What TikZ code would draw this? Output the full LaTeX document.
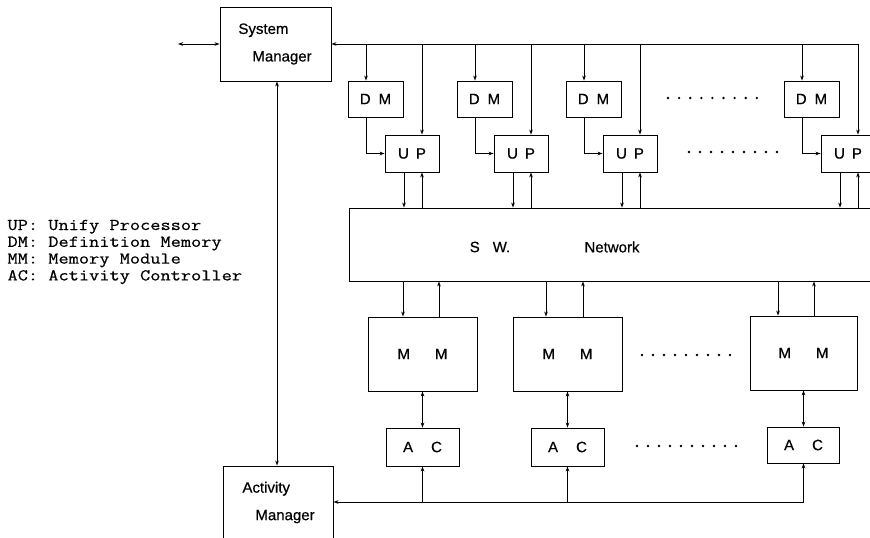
\documentclass[tikz,border=0pt]{standalone}
\usepackage{fontspec}
\newfontfamily\labelfont[FakeBold=0.6]{Liberation Sans}
\newfontfamily\legendfont[FakeBold=0.5]{Latin Modern Mono}
\usetikzlibrary{arrows.meta}
\begin{document}
\begin{tikzpicture}[x=1pt,y=-1pt,
  line width=0.9pt,
  box/.style={draw, inner sep=0pt, font=\labelfont\fontsize{15}{17}\selectfont},
  lbl/.style={inner sep=0pt, font=\labelfont\fontsize{15}{17}\selectfont},
  mgr/.style={inner sep=0pt, align=left, font=\labelfont\fontsize{15}{27.5}\selectfont},
  arr/.style={-{Stealth[length=5pt,width=3.6pt]}},
  darr/.style={{Stealth[length=5pt,width=3.6pt]}-{Stealth[length=5pt,width=3.6pt]}},
  dot/.style={fill=black}]
\useasboundingbox (0,0) rectangle (870,538);
\clip (0,0) rectangle (870,538);

% managers
\node[box, minimum width=111pt, minimum height=74pt] (sm) at (275.5,44) {};
\node[mgr, anchor=west] (smtext) at (238,44) {System\\\hspace{14pt}Manager};
\node[box, minimum width=110pt, minimum height=104pt] (am) at (278,518) {};
\node[mgr, anchor=west] (amtext) at (242,502.5) {Activity\\\hspace{13pt}Manager};

% switching network
\node[box, minimum width=551pt, minimum height=73pt] (net) at (624.5,244.5) {};
\node[lbl] (sw) at (490,247) {S\hspace{13pt}W.};
\node[lbl] (nw) at (612,247) {Network};

% external link and the manager-to-manager link
\coordinate (ext) at (178,44);
\draw[darr] (ext) -- (sm.west);
\coordinate (vx) at (277,0);
\draw[darr] (sm.south -| vx) -- (am.north -| vx);

% processor columns: definition memory feeding a unify processor
\foreach \k in {0,1,2,4}{
  \pgfmathsetmacro\ox{109*\k}
  \node[box, minimum width=55pt, minimum height=36pt] (dm\k) at (375.5+\ox,99) {D\hspace{8pt}M};
  \node[box, minimum width=54pt, minimum height=37pt] (up\k) at (412+\ox,153.5) {U\hspace{7pt}P};
  \coordinate (dmdrop\k) at (366+\ox,44);
  \coordinate (updrop\k) at (422+\ox,44);
  \coordinate (nd\k) at (404+\ox,0);
  \draw[arr] (dmdrop\k) -- (dmdrop\k |- dm\k.north);
  \draw[arr] (dm\k.south -| dmdrop\k) |- (up\k.west);
  \draw[arr] (updrop\k) -- (updrop\k |- up\k.north);
  \draw[arr] (up\k.south -| nd\k) -- (nd\k |- net.north);
  \draw[arr] (net.north -| updrop\k) -- (updrop\k |- up\k.south);
}
% system bus
\draw[arr] (updrop4) -- (sm.east);

% memory modules with their activity controllers
\node[box, minimum width=109pt, minimum height=74pt] (mm1) at (422.5,354) {M\hspace{25pt}M};
\node[box, minimum width=109pt, minimum height=74pt] (mm2) at (567.5,354) {M\hspace{25pt}M};
\node[box, minimum width=107pt, minimum height=74pt] (mm3) at (803.5,353) {M\hspace{25pt}M};
\node[box, minimum width=73pt, minimum height=38pt] (ac1) at (422.5,447) {A\hspace{18pt}C};
\node[box, minimum width=73pt, minimum height=38pt] (ac2) at (567.5,447) {A\hspace{18pt}C};
\node[box, minimum width=72pt, minimum height=36pt] (ac3) at (803.5,445) {A\hspace{18pt}C};

\foreach \i/\d/\u in {1/403/439, 2/546/583, 3/778/814}{
  \coordinate (mmd\i) at (\d,0);
  \coordinate (mmu\i) at (\u,0);
  \draw[arr] (net.south -| mmd\i) -- (mmd\i |- mm\i.north);
  \draw[arr] (mm\i.north -| mmu\i) -- (mmu\i |- net.south);
  \draw[darr] (mm\i.south) -- (mm\i.south |- ac\i.north);
}

% activity bus
\coordinate (bb) at (0,502);
\draw[darr] (am.east |- bb) -- (ac3.south |- bb) -- (ac3.south);
\draw[arr] (ac1.south |- bb) -- (ac1.south);
\draw[arr] (ac2.south |- bb) -- (ac2.south);

% ellipsis dots
\foreach \i in {0,...,8}{
  \fill[dot] (668+\i*11.1,98) circle (1.3pt);
  \fill[dot] (689+\i*11,152) circle (1.3pt);
  \fill[dot] (642+\i*11,355) circle (1.3pt);
}
\foreach \i in {0,...,9}
  \fill[dot] (637+\i*11,446) circle (1.3pt);

% legend
\node[anchor=west, align=left, inner sep=0pt, xscale=1.2,
      font=\legendfont\fontsize{16.5}{16.8}\selectfont] (legend) at (7,252)
  {UP: Unify Processor\\DM: Definition Memory\\MM: Memory Module\\AC: Activity Controller};
\end{tikzpicture}
\end{document}
